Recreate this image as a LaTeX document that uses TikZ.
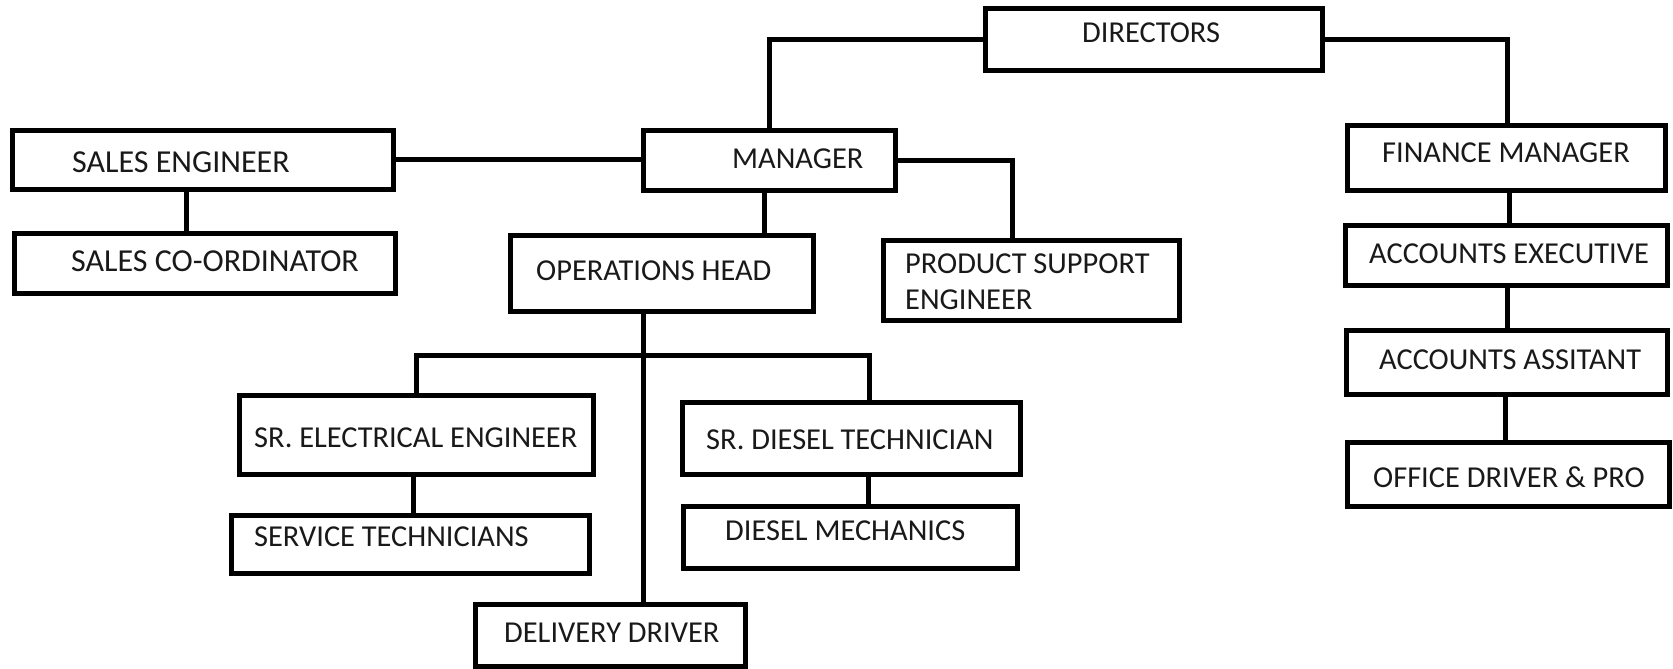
\documentclass[tikz,border=0pt]{standalone}
\usepackage{fontspec}
\setmainfont{Carlito}
\begin{document}
\begin{tikzpicture}[x=1pt,y=-1pt,
  box/.style={draw=black,line width=5pt,inner sep=0pt,fill=none},
  lbl/.style={anchor=base west,inner sep=0pt,text=black!90,font=\fontsize{30.4}{36}\selectfont},
  biglbl/.style={lbl,font=\fontsize{32}{38}\selectfont},
  link/.style={draw=black,line width=5pt}]
\useasboundingbox (0,0) rectangle (1673,669);
\fill[white] (0,0) rectangle (1673,669);
% boxes
\node[box,minimum width=337pt,minimum height=62pt] (dir) at (1153.5,40) {};
\node[box,minimum width=381pt,minimum height=59pt] (se) at (202.5,159.5) {};
\node[box,minimum width=381pt,minimum height=60pt] (sc) at (204.5,263) {};
\node[box,minimum width=252pt,minimum height=60pt] (mgr) at (769,160) {};
\node[box,minimum width=303pt,minimum height=76pt] (ops) at (661.5,273) {};
\node[box,minimum width=296pt,minimum height=80pt] (pse) at (1031,280) {};
\node[box,minimum width=318pt,minimum height=65pt] (fin) at (1506,157.5) {};
\node[box,minimum width=322pt,minimum height=60pt] (ae) at (1506,255) {};
\node[box,minimum width=321pt,minimum height=64pt] (aa) at (1506.5,362) {};
\node[box,minimum width=322pt,minimum height=64pt] (od) at (1508,474) {};
\node[box,minimum width=354pt,minimum height=79pt] (see) at (416,434.5) {};
\node[box,minimum width=358pt,minimum height=58pt] (st) at (410,544) {};
\node[box,minimum width=338pt,minimum height=72pt] (sdt) at (851,438) {};
\node[box,minimum width=334pt,minimum height=62pt] (dm) at (850,537) {};
\node[box,minimum width=270pt,minimum height=62pt] (dd) at (610,635) {};
% labels
\node[lbl] (tdir) at (1082,43) {DIRECTORS};
\node[biglbl] (tse) at (72,172) {SALES ENGINEER};
\node[lbl] (tmgr) at (732,168) {MANAGER};
\node[lbl] (tfin) at (1382,162) {FINANCE MANAGER};
\node[biglbl] (tsc) at (71,271) {SALES CO-ORDINATOR};
\node[lbl] (tops) at (536,280) {OPERATIONS HEAD};
\node[lbl] (tpse1) at (905,273) {PRODUCT SUPPORT};
\node[lbl] (tpse2) at (905,309) {ENGINEER};
\node[lbl] (tae) at (1369,263) {ACCOUNTS EXECUTIVE};
\node[lbl] (taa) at (1379,369) {ACCOUNTS ASSITANT};
\node[lbl] (tod) at (1373,487) {OFFICE DRIVER \& PRO};
\node[lbl] (tsee) at (254,447) {SR. ELECTRICAL ENGINEER};
\node[lbl] (tsdt) at (706,449) {SR. DIESEL TECHNICIAN};
\node[lbl] (tst) at (254,546) {SERVICE TECHNICIANS};
\node[lbl] (tdm) at (725,540) {DIESEL MECHANICS};
\node[lbl] (tdd) at (504,642) {DELIVERY DRIVER};
% connector anchor points
\coordinate (cdm) at ([xshift=129pt]mgr.north west);
\coordinate (cfin) at ([xshift=163pt]fin.north west);
\coordinate (cse) at ([xshift=177pt]se.south west);
\coordinate (cmo) at ([xshift=124pt]mgr.south west);
\coordinate (cpse) at ([xshift=132pt]pse.north west);
\coordinate (cops) at ([xshift=136pt]ops.south west);
\coordinate (bus) at (646,355);
\coordinate (csee) at ([xshift=180pt]see.north west);
\coordinate (csdt) at ([xshift=190pt]sdt.north west);
\coordinate (cst) at ([xshift=177pt]see.south west);
\coordinate (cdmx) at ([xshift=189pt]sdt.south west);
\coordinate (cf1) at ([xshift=165pt]fin.south west);
\coordinate (cf2) at ([xshift=165pt]ae.south west);
\coordinate (cf3) at ([xshift=162pt]aa.south west);
% connectors
\draw[link] (cdm) |- (dir.west);
\draw[link] (dir.east) -| (cfin);
\draw[link] (se.east) -- (se.east -| mgr.west);
\draw[link] (cse) -- (cse |- sc.north);
\draw[link] (cmo) -- (cmo |- ops.north);
\draw[link] (mgr.east) -| (cpse);
\draw[link] (cops) -- (cops |- dd.north);
\draw[link] (csee) |- (bus) -| (csdt);
\draw[link] (cst) -- (cst |- st.north);
\draw[link] (cdmx) -- (cdmx |- dm.north);
\draw[link] (cf1) -- (cf1 |- ae.north);
\draw[link] (cf2) -- (cf2 |- aa.north);
\draw[link] (cf3) -- (cf3 |- od.north);
\end{tikzpicture}
\end{document}
